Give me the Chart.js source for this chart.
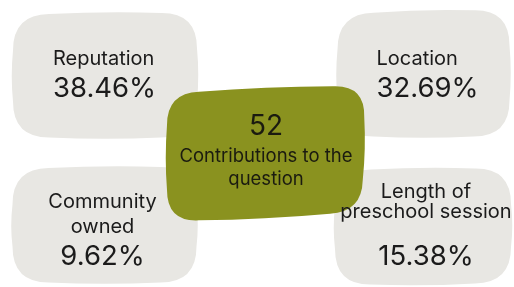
<!DOCTYPE html>
<html>
<head>
<meta charset="utf-8">
<script src="https://cdn.jsdelivr.net/npm/chart.js@4.4.1/dist/chart.umd.min.js"></script>
<style>
  html, body { margin: 0; padding: 0; background: #ffffff; }
  #wrap { width: 514px; height: 287px; }
</style>
</head>
<body>
<div id="wrap"><canvas id="chart"></canvas></div>
<script>
const categories = ['Reputation', 'Location', 'Community owned', 'Length of preschool session'];
const shares = [38.46, 32.69, 9.62, 15.38];
const totalContributions = 52;
const totalCaption = 'Contributions to the question';

// Layout of the cards (page pixels), kept apart from the data.
// corners are offsets from the card centre: tl, tr, br, bl
const cards = [
    { x: 105, y: 75.5, r: [36, 36, 36, 36], align: 'left', tx: -52,
      corners: [[-92, -61], [92, -63], [92, 62], [-92, 62]],
      lines: [['Reputation', 20, -10.5], ['{v}', 27.5, 21.5]] },
    { x: 423.5, y: 73.5, r: [36, 36, 36, 36], align: 'left', tx: -47,
      corners: [[-86, -60], [86, -64], [86, 63], [-86, 63]],
      lines: [['Location', 20, -8.5], ['{v}', 27.5, 23.5]] },
    { x: 104.5, y: 224.5, r: [36, 36, 36, 36], align: 'center', tx: -2,
      corners: [[-92, -56], [92, -58], [92, 58], [-92, 58]],
      lines: [['Community', 20, -16.5], ['owned', 20, 8.5], ['{v}', 27.5, 40.5]] },
    { x: 423, y: 226, r: [36, 36, 36, 36], align: 'center', tx: 3,
      corners: [[-88, -56], [88, -58], [88, 57], [-88, 59]],
      lines: [['Length of', 20, -28], ['preschool session', 20, -8], ['{v}', 27.5, 39]] }
];
const centerCard = { x: 265.5, y: 153.5, r: [32, 32, 32, 32], align: 'center', tx: 0.5,
    corners: [[-98.5, -60.5], [99.5, -68.5], [96.5, 58.5], [-98.5, 68.5]],
    lines: [['{n}', 28, -18.5], ['Contributions to the', 18.5, 8.5], ['question', 18.5, 31.5]] };

const FONT = 'Inter, "Noto Sans", sans-serif';

// rounded quad with slightly bulging edges
function blob(ctx, cx, cy, corners, radii, bulge) {
    const P = corners.map(([dx, dy]) => [cx + dx, cy + dy]);
    const n = P.length;
    const toward = (a, b, d) => {
        const len = Math.hypot(b[0] - a[0], b[1] - a[1]);
        return [a[0] + (b[0] - a[0]) * d / len, a[1] + (b[1] - a[1]) * d / len];
    };
    const pin = [], pout = [];
    for (let i = 0; i < n; i++) {
        pin[i] = toward(P[i], P[(i + n - 1) % n], radii[i]);
        pout[i] = toward(P[i], P[(i + 1) % n], radii[i]);
    }
    ctx.beginPath();
    ctx.moveTo(pout[0][0], pout[0][1]);
    for (let i = 0; i < n; i++) {
        const j = (i + 1) % n;
        const a = pout[i], b = pin[j];
        const len = Math.hypot(b[0] - a[0], b[1] - a[1]);
        const nx = (b[1] - a[1]) / len, ny = -(b[0] - a[0]) / len;
        ctx.quadraticCurveTo((a[0] + b[0]) / 2 + nx * bulge, (a[1] + b[1]) / 2 + ny * bulge, b[0], b[1]);
        ctx.quadraticCurveTo(P[j][0], P[j][1], pout[j][0], pout[j][1]);
    }
    ctx.closePath();
}

function drawShape(ctx, card, px, py, bg) {
    blob(ctx, px, py, card.corners, card.r, 2.5);
    ctx.fillStyle = bg;
    ctx.fill();
}

function drawText(ctx, card, px, py, fg, replace) {
    ctx.fillStyle = fg;
    ctx.textAlign = card.align;
    ctx.textBaseline = 'alphabetic';
    card.lines.forEach(([txt, size, dy]) => {
        ctx.font = size + 'px ' + FONT;
        ctx.fillText(replace(txt), px + card.tx, py + dy);
    });
}

// Draws the cards at the positions the scales computed for the points
const cardPlugin = {
    id: 'cards',
    afterDatasetsDraw(chart) {
        const ctx = chart.ctx;
        const pts = chart.getDatasetMeta(0).data;
        const cp = chart.getDatasetMeta(1).data[0];
        ctx.save();
        pts.forEach((pt, i) => drawShape(ctx, cards[i], pt.x, pt.y, '#e8e7e3'));
        drawShape(ctx, centerCard, cp.x, cp.y, '#8a921f');
        pts.forEach((pt, i) => drawText(ctx, cards[i], pt.x, pt.y, '#1b1b1b',
            t => t === '{v}' ? shares[i].toFixed(2) + '%' : t));
        drawText(ctx, centerCard, cp.x, cp.y, '#1b1b10',
            t => t === '{n}' ? String(totalContributions) : t);
        ctx.restore();
    }
};

new Chart(document.getElementById('chart'), {
    type: 'scatter',
    data: {
        datasets: [{
            label: 'Share of contributions',
            data: cards.map((c, i) => ({ x: c.x, y: c.y, v: shares[i], label: categories[i] })),
            pointRadius: 0
        }, {
            label: totalCaption,
            data: [{ x: centerCard.x, y: centerCard.y, v: totalContributions }],
            pointRadius: 0
        }]
    },
    options: {
        responsive: true,
        maintainAspectRatio: false,
        animation: false,
        layout: { padding: 0 },
        plugins: { legend: { display: false }, tooltip: { enabled: false } },
        scales: {
            x: { type: 'linear', min: 0, max: 514, display: false },
            y: { type: 'linear', min: 0, max: 287, reverse: true, display: false }
        }
    },
    plugins: [cardPlugin]
});
</script>
</body>
</html>
